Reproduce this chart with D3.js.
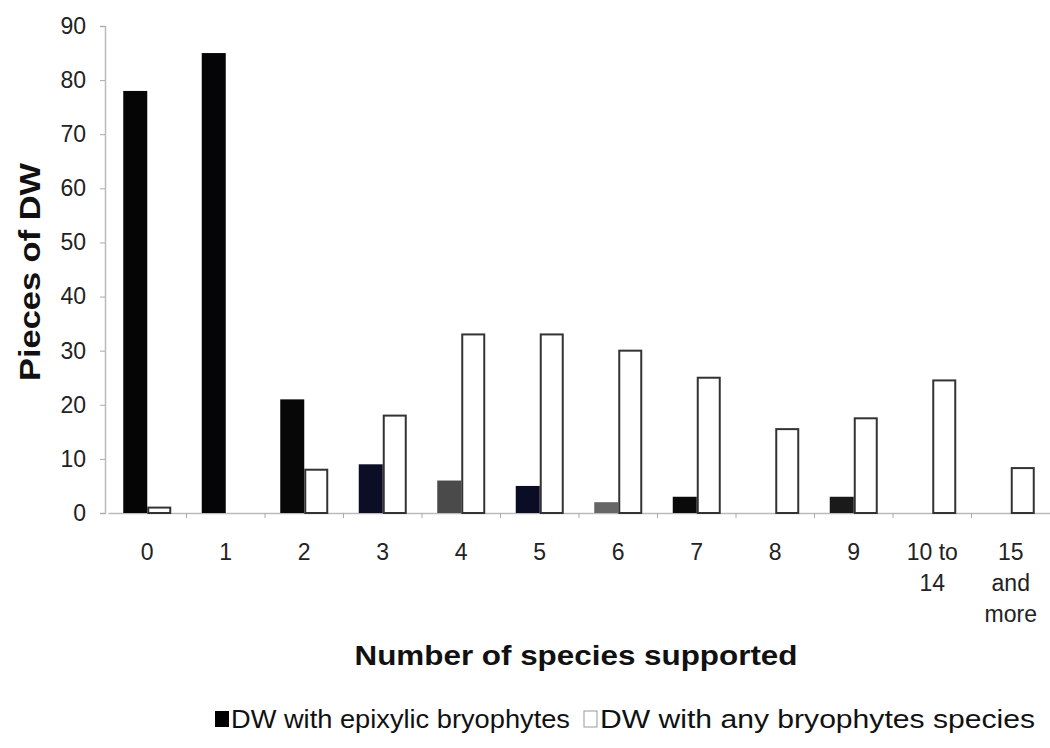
<!DOCTYPE html>
<html><head><meta charset="utf-8">
<script src="https://cdn.jsdelivr.net/npm/d3@7"></script>
<style>body{margin:0;background:#fff}svg{display:block;font-family:"Liberation Sans",Arial,sans-serif}</style>
</head><body><svg id="c" width="1050" height="748"></svg>
<script>
const categories = ["0","1","2","3","4","5","6","7","8","9","10 to 14","15 and more"];
const epixylic = [78, 85, 21, 9, 6, 5, 2, 3, 0, 3, 0, 0];
const anyBryo = [1, 0, 8, 18, 33, 33, 30, 25, 15.5, 17.5, 24.5, 8.3];
const yTicks = [0,10,20,30,40,50,60,70,80,90];
const seriesNames = ["DW with epixylic bryophytes", "DW with any bryophytes species"];
const epiFills = ["#050505","#050508","#070707","#0c0e26","#4a4a4a","#0b0d26","#666666","#0a0a0a","#000","#1a1a1a","#000","#000"];

const svg = d3.select("#c");
const m = {left:108, right:1050, top:26, bottom:513};
const x = d3.scaleBand().domain(categories).range([m.left, m.right]).padding(0);
const y = d3.scaleLinear().domain([0,90]).range([m.bottom, m.top]);
const bw = 24;

// axes
const ya = svg.append("g").attr("transform",`translate(${m.left-3},0)`)
  .call(d3.axisLeft(y).tickValues(yTicks).tickSize(5).tickPadding(14));
ya.select(".domain").attr("stroke","#bbb").attr("stroke-width",1.5);
ya.selectAll(".tick line").attr("stroke","#aaa");
ya.selectAll(".tick text").attr("font-size",23).attr("fill","#222").attr("font-family","Liberation Sans, Arial, sans-serif");

const xa = svg.append("g").attr("transform",`translate(0,${m.bottom})`)
  .call(d3.axisBottom(x).tickSize(0).tickFormat(""));
xa.select(".domain").attr("stroke","#bbb").attr("stroke-width",1.5);
svg.append("g").selectAll("line").data(categories.slice(1)).join("line")
  .attr("x1",d=>x(d)).attr("x2",d=>x(d)).attr("y1",m.bottom).attr("y2",m.bottom+5)
  .attr("stroke","#aaa");

// bars
svg.append("g").selectAll("rect").data(categories).join("rect")
  .attr("x",d=>x(d)+x.bandwidth()/2-bw)
  .attr("width",bw)
  .attr("y",(d,i)=>y(epixylic[i]))
  .attr("height",(d,i)=>y(0)-y(epixylic[i]))
  .attr("fill",(d,i)=>epiFills[i]);
svg.append("g").selectAll("rect").data(categories).join("rect")
  .filter((d,i)=>anyBryo[i]>0)
  .attr("x",d=>x(d)+x.bandwidth()/2+1)
  .attr("width",bw-2)
  .attr("y",d=>y(anyBryo[categories.indexOf(d)]))
  .attr("height",d=>y(0)-y(anyBryo[categories.indexOf(d)]))
  .attr("fill","#fff").attr("stroke","#333").attr("stroke-width",2);

// x labels (wrapped)
const labelLines = {"10 to 14":["10 to","14"],"15 and more":["15","and","more"]};
const lg = svg.append("g").attr("font-size",23).attr("fill","#222").attr("text-anchor","middle");
categories.forEach(c=>{
  const lines = labelLines[c] || [c];
  const cx = x(c)+x.bandwidth()/2;
  const t = lg.append("text").attr("x",cx).attr("y",560);
  lines.forEach((ln,j)=>t.append("tspan").attr("x",cx).attr("dy",j?31:0).text(ln));
});

// axis titles
svg.append("text").attr("x",576).attr("y",665).attr("text-anchor","middle")
  .attr("font-size",28).attr("font-weight","bold").attr("fill","#111")
  .attr("textLength",443).attr("lengthAdjust","spacingAndGlyphs").text("Number of species supported");
svg.append("text").attr("transform","translate(40,272) rotate(-90)").attr("text-anchor","middle")
  .attr("font-size",29).attr("font-weight","bold").attr("fill","#111")
  .attr("textLength",218).attr("lengthAdjust","spacingAndGlyphs").text("Pieces of DW");

// legend
const leg = svg.append("g").attr("font-size",25).attr("fill","#111");
leg.append("rect").attr("x",215).attr("y",711).attr("width",14).attr("height",16).attr("fill","#000");
leg.append("text").attr("x",231).attr("y",728).attr("textLength",339).attr("lengthAdjust","spacingAndGlyphs").text(seriesNames[0]);
leg.append("rect").attr("x",584).attr("y",711).attr("width",13).attr("height",16).attr("fill","#fff").attr("stroke","#999").attr("stroke-width",1);
leg.append("text").attr("x",600).attr("y",728).attr("textLength",435).attr("lengthAdjust","spacingAndGlyphs").text(seriesNames[1]);
</script></body></html>
